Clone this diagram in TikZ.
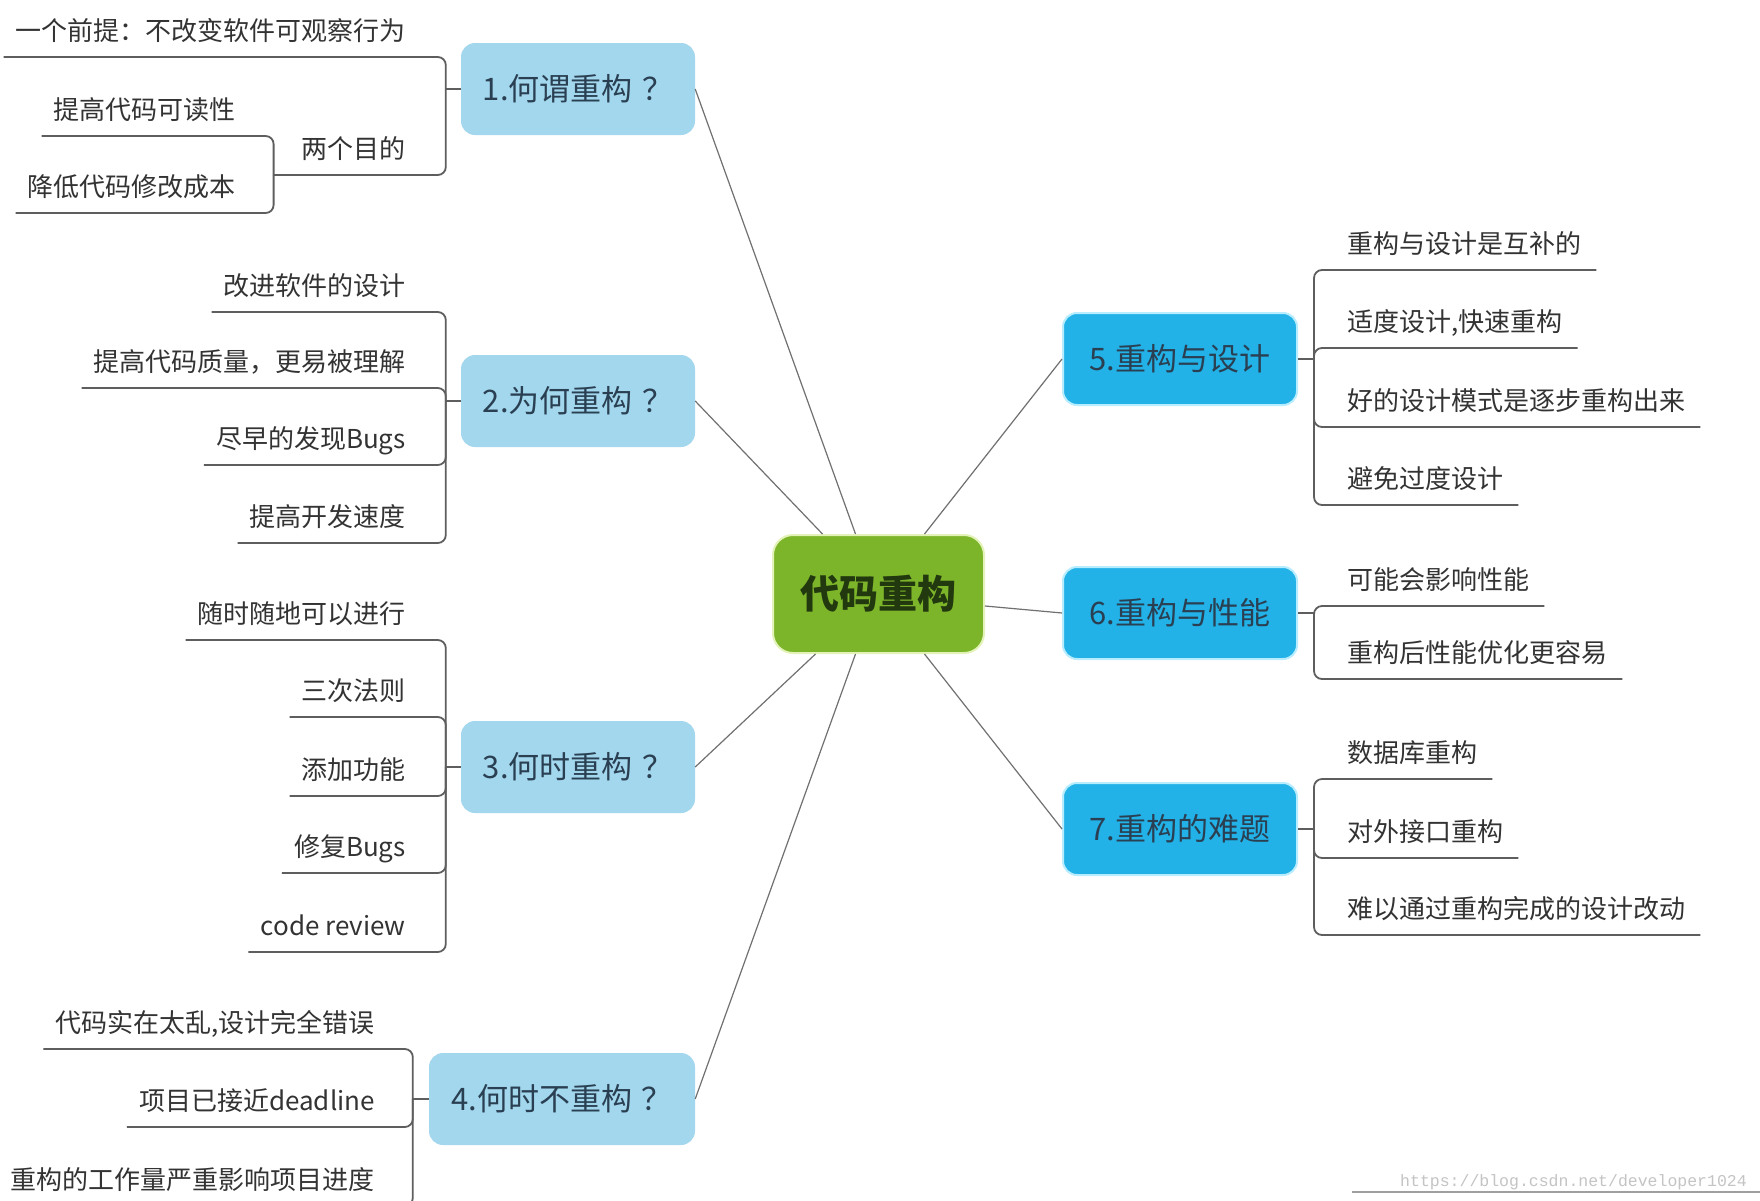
\documentclass[tikz,border=0pt]{standalone}
\usepackage{fontspec}
\setmainfont{Noto Sans CJK SC}
\setmonofont{Liberation Mono}
\usetikzlibrary{calc}
\definecolor{cgreen}{HTML}{7DB52A}
\definecolor{cglow}{HTML}{E2F2B8}
\definecolor{ctext}{HTML}{22380F}
\definecolor{lblue}{HTML}{A3D7EE}
\definecolor{dblue}{HTML}{22B2E8}
\definecolor{bglow}{HTML}{B8ECFF}
\definecolor{ntext}{HTML}{2A4052}
\definecolor{ltext}{HTML}{333333}
\definecolor{lgray}{HTML}{5E5E5E}
\definecolor{cgray}{HTML}{707070}
\definecolor{wmgray}{HTML}{C4C4C4}
\newcommand{\qm}{\kern0.3em？}
\begin{document}
\begin{tikzpicture}[x=1pt,y=-1pt,
 leaf/.style={inner xsep=0pt, inner ysep=0pt, text height=19pt, text depth=16pt, font=\fontsize{26}{30}\selectfont, text=ltext},
 leafL/.style={leaf, anchor=south east},
 leafR/.style={leaf, anchor=south west},
 br/.style={draw=lgray, line width=1.8pt, rounded corners=8pt},
 con/.style={draw=cgray, line width=1.2pt},
 topic/.style={rounded corners=14pt, minimum height=92pt, minimum width=234pt, font=\fontsize{31}{36}\selectfont, text=ntext, inner sep=0pt},
 topicA/.style={topic, fill=lblue},
 topicB/.style={topic, fill=dblue, draw=bglow, line width=2pt}
]
\useasboundingbox (0,0) rectangle (1760,1200);
\clip (0,0) rectangle (1760,1200);
\fill[white] (0,0) rectangle (1760,1200);

% center
\node[rounded corners=20pt, fill=cgreen, draw=cglow, line width=2pt, minimum width=211pt, minimum height=118pt, inner sep=0pt, font=\fontsize{39}{44}\selectfont\bfseries, text=ctext] (c) at (878.5,594) {代码重构};

% main topics
\node[topicA] (n1) at (578,89) {1.何谓重构\qm};
\node[topicA] (n2) at (578,401) {2.为何重构\qm};
\node[topicA] (n3) at (578,767) {3.何时重构\qm};
\node[topicA, minimum width=266pt] (n4) at (562,1099) {4.何时不重构\qm};
\node[topicB] (n5) at (1180,359) {5.重构与设计};
\node[topicB] (n6) at (1180,613) {6.重构与性能};
\node[topicB] (n7) at (1180,829) {7.重构的难题};

% connectors from center
\draw[con] ([xshift=-23pt]c.north) -- (n1.east);
\draw[con] ([xshift=-56pt]c.north) -- (n2.east);
\draw[con] ([xshift=-63pt]c.south) -- (n3.east);
\draw[con] ([xshift=-23pt]c.south) -- (n4.east);
\draw[con] ([xshift=46pt]c.north) -- (n5.west);
\draw[con] ([yshift=-12pt]c.east) -- (n6.west);
\draw[con] ([xshift=46pt]c.south) -- (n7.west);

% ---- topic 1
\coordinate (v1) at ([xshift=-15pt]n1.west);
\draw[br] (v1) -- (n1.west);
\node[leafL] (a11) at (406,57) {一个前提：不改变软件可观察行为};
\draw[br] ([xshift=-12pt]a11.south west) -- (a11.south -| v1) -- (v1);
\node[leafL] (a12) at (406,175) {两个目的};
\coordinate (v12) at ([xshift=-28pt]a12.south west);
\draw[br] (v12) -- (a12.south -| v1) -- (v1);
\node[leafL] (a121) at (236,136) {提高代码可读性};
\draw[br] ([xshift=-12pt]a121.south west) -- (a121.south -| v12) -- (v12);
\node[leafL] (a122) at (236,213) {降低代码修改成本};
\draw[br] ([xshift=-12pt]a122.south west) -- (a122.south -| v12) -- (v12);

% ---- topic 2
\coordinate (v2) at ([xshift=-15pt]n2.west);
\draw[br] (v2) -- (n2.west);
\node[leafL] (a21) at (406,312) {改进软件的设计};
\draw[br] ([xshift=-12pt]a21.south west) -- (a21.south -| v2) -- (v2);
\node[leafL] (a22) at (406,388) {提高代码质量，更易被理解};
\draw[br] ([xshift=-12pt]a22.south west) -- (a22.south -| v2) -- (v2);
\node[leafL] (a23) at (406,465) {尽早的发现Bugs};
\draw[br] ([xshift=-12pt]a23.south west) -- (a23.south -| v2) -- (v2);
\node[leafL] (a24) at (406,543) {提高开发速度};
\draw[br] ([xshift=-12pt]a24.south west) -- (a24.south -| v2) -- (v2);

% ---- topic 3
\coordinate (v3) at ([xshift=-15pt]n3.west);
\draw[br] (v3) -- (n3.west);
\node[leafL] (a31) at (406,640) {随时随地可以进行};
\draw[br] ([xshift=-12pt]a31.south west) -- (a31.south -| v3) -- (v3);
\node[leafL] (a32) at (406,717) {三次法则};
\draw[br] ([xshift=-12pt]a32.south west) -- (a32.south -| v3) -- (v3);
\node[leafL] (a33) at (406,796) {添加功能};
\draw[br] ([xshift=-12pt]a33.south west) -- (a33.south -| v3) -- (v3);
\node[leafL] (a34) at (406,873) {修复Bugs};
\draw[br] ([xshift=-12pt]a34.south west) -- (a34.south -| v3) -- (v3);
\node[leafL] (a35) at (406,952) {code review};
\draw[br] ([xshift=-12pt]a35.south west) -- (a35.south -| v3) -- (v3);

% ---- topic 4
\coordinate (v4) at ([xshift=-16pt]n4.west);
\draw[br] (v4) -- (n4.west);
\node[leafL] (a41) at (375,1049) {代码实在太乱,设计完全错误};
\draw[br] ([xshift=-12pt]a41.south west) -- (a41.south -| v4) -- (v4);
\node[leafL] (a42) at (375,1127) {项目已接近deadline};
\draw[br] ([xshift=-12pt]a42.south west) -- (a42.south -| v4) -- (v4);
\node[leafL] (a43) at (375,1206) {重构的工作量严重影响项目进度};
\draw[br] ([xshift=-12pt]a43.south west) -- (a43.south -| v4) -- (v4);

% ---- topic 5
\coordinate (v5) at ([xshift=16pt]n5.east);
\draw[br] (n5.east) -- (v5);
\node[leafR] (b51) at (1347,270) {重构与设计是互补的};
\draw[br] ([xshift=15pt]b51.south east) -- (b51.south -| v5) -- (v5);
\node[leafR] (b52) at (1347,348) {适度设计,快速重构};
\draw[br] ([xshift=15pt]b52.south east) -- (b52.south -| v5) -- (v5);
\node[leafR] (b53) at (1347,427) {好的设计模式是逐步重构出来};
\draw[br] ([xshift=15pt]b53.south east) -- (b53.south -| v5) -- (v5);
\node[leafR] (b54) at (1347,505) {避免过度设计};
\draw[br] ([xshift=15pt]b54.south east) -- (b54.south -| v5) -- (v5);

% ---- topic 6
\coordinate (v6) at ([xshift=16pt]n6.east);
\draw[br] (n6.east) -- (v6);
\node[leafR] (b61) at (1347,606) {可能会影响性能};
\draw[br] ([xshift=15pt]b61.south east) -- (b61.south -| v6) -- (v6);
\node[leafR] (b62) at (1347,679) {重构后性能优化更容易};
\draw[br] ([xshift=15pt]b62.south east) -- (b62.south -| v6) -- (v6);

% ---- topic 7
\coordinate (v7) at ([xshift=16pt]n7.east);
\draw[br] (n7.east) -- (v7);
\node[leafR] (b71) at (1347,779) {数据库重构};
\draw[br] ([xshift=15pt]b71.south east) -- (b71.south -| v7) -- (v7);
\node[leafR] (b72) at (1347,858) {对外接口重构};
\draw[br] ([xshift=15pt]b72.south east) -- (b72.south -| v7) -- (v7);
\node[leafR] (b73) at (1347,935) {难以通过重构完成的设计改动};
\draw[br] ([xshift=15pt]b73.south east) -- (b73.south -| v7) -- (v7);

% watermark
\node[anchor=base west, inner sep=0pt, font=\ttfamily\fontsize{16.5}{20}\selectfont, text=wmgray] (wm) at (1400,1186) {https://blog.csdn.net/developer1024};
\draw[draw=gray!75, line width=2pt] (1352,1192) -- (1760,1192);
\end{tikzpicture}
\end{document}
